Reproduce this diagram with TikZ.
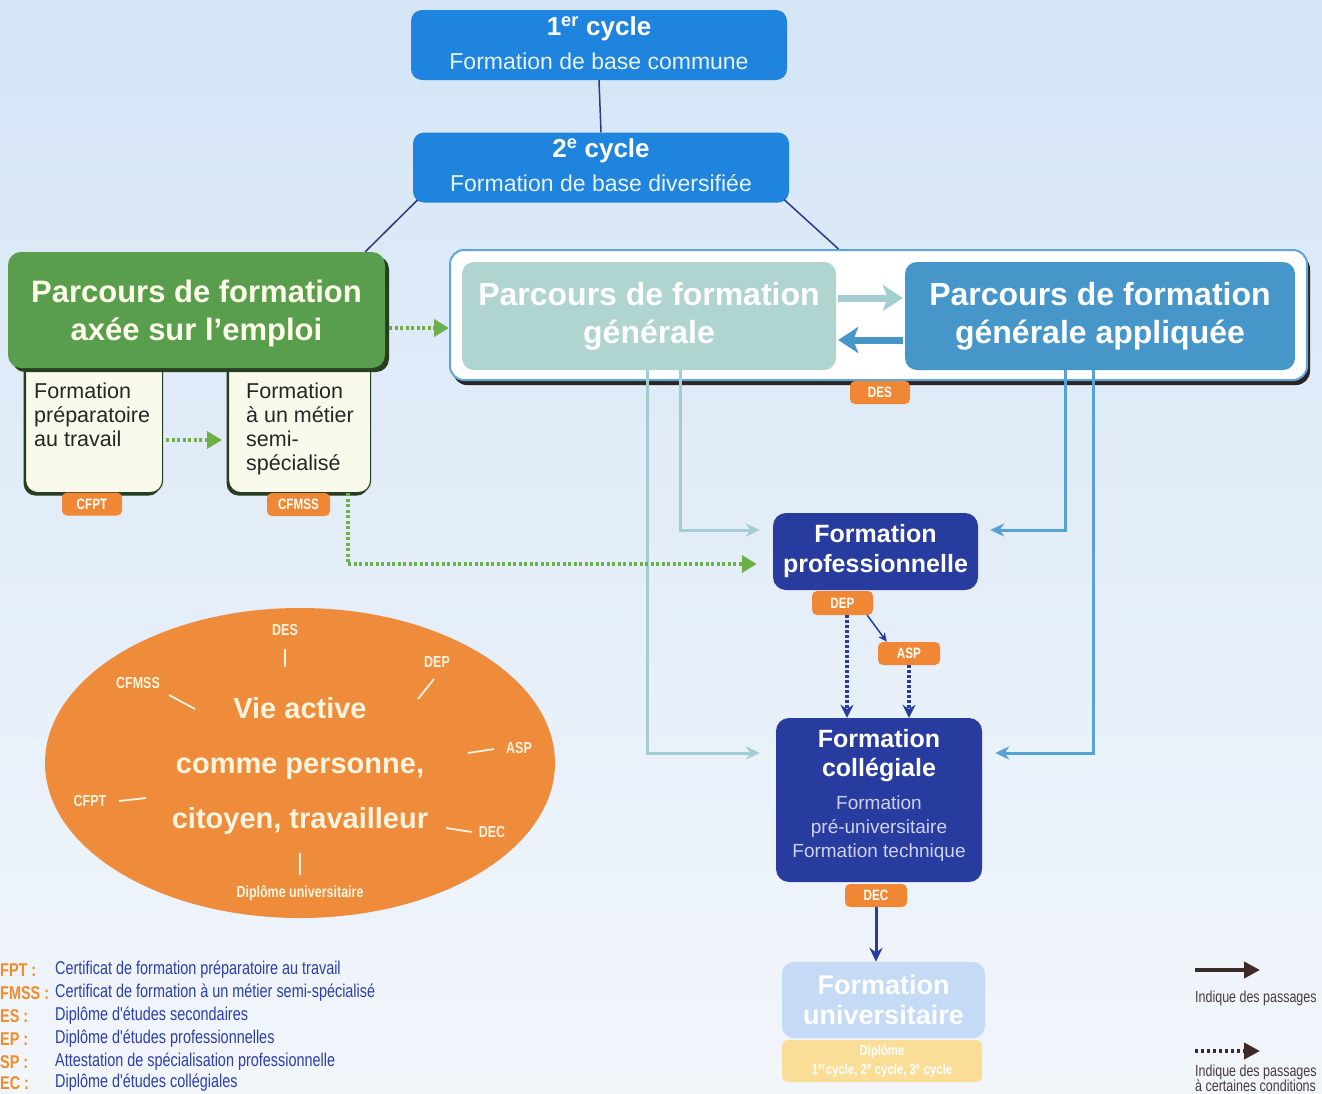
\documentclass[tikz,border=0pt]{standalone}
\usepackage{fontspec}
\setmainfont{Liberation Sans}
\newfontfamily\narrowfont[FakeStretch=0.78]{Liberation Sans}
\usetikzlibrary{arrows.meta,shadows,shapes.geometric}
\definecolor{bgtop}{RGB}{213,229,246}
\definecolor{bgbot}{RGB}{242,246,251}
\definecolor{ccycle}{RGB}{30,132,222}
\definecolor{cnavyline}{RGB}{45,55,135}
\definecolor{cgreen}{RGB}{88,158,76}
\definecolor{cgreendark}{RGB}{40,62,32}
\definecolor{ccream}{RGB}{249,250,236}
\definecolor{cbadge}{RGB}{240,135,52}
\definecolor{cgreenarr}{RGB}{110,176,72}
\definecolor{ccontborder}{RGB}{95,165,215}
\definecolor{cgen}{RGB}{176,212,208}
\definecolor{capp}{RGB}{70,150,202}
\definecolor{cteal}{RGB}{162,206,210}
\definecolor{cblue}{RGB}{85,163,214}
\definecolor{cnavy}{RGB}{40,60,160}
\definecolor{cnavysub}{RGB}{205,210,242}
\definecolor{cuniv}{RGB}{196,218,245}
\definecolor{cdipl}{RGB}{250,222,152}
\definecolor{cell}{RGB}{238,140,60}
\definecolor{celltext}{RGB}{255,244,222}
\definecolor{clegorange}{RGB}{240,140,40}
\definecolor{clegblue}{RGB}{45,62,170}
\definecolor{clegbrown}{RGB}{62,42,38}
\definecolor{clegtext}{RGB}{70,60,60}
\definecolor{cshadow}{RGB}{45,35,35}
\begin{document}
\begin{tikzpicture}[x=1pt,y=-1pt,
  cyclebox/.style={rectangle, rounded corners=11pt, fill=ccycle, minimum width=376pt, minimum height=70pt, inner sep=0pt},
  cycletitle/.style={text=white, font=\bfseries\fontsize{26}{30}\selectfont, inner sep=0pt},
  cyclesub/.style={text=white!90!ccycle, font=\fontsize{23}{26}\selectfont, inner sep=0pt},
  navyconn/.style={cnavyline, line width=1.5pt},
  subbox/.style={rectangle, rounded corners=12pt, fill=ccream, draw=cgreendark, line width=1.2pt, minimum width=137pt, minimum height=137pt, anchor=north west, inner sep=0pt,
     drop shadow={shadow xshift=-2pt, shadow yshift=-3pt, fill=cgreendark, opacity=1}},
  subtext/.style={font=\fontsize{21.5}{24}\selectfont, align=left, anchor=north west, inner sep=0pt, text=black!85},
  greenbox/.style={rectangle, rounded corners=13pt, fill=cgreen, minimum width=377pt, minimum height=116pt, inner sep=0pt,
     drop shadow={shadow xshift=4pt, shadow yshift=-4pt, fill=cgreendark, opacity=1}},
  greentext/.style={text=white!92!yellow, font=\bfseries\fontsize{31}{38}\selectfont, align=center, inner sep=0pt},
  contbox/.style={rectangle, rounded corners=14pt, fill=white, draw=ccontborder, line width=2pt, minimum width=857pt, minimum height=130pt, inner sep=0pt,
     drop shadow={shadow xshift=3pt, shadow yshift=-5pt, fill=cshadow, opacity=1}},
  genbox/.style={rectangle, rounded corners=12pt, fill=cgen, minimum width=374pt, minimum height=108pt, inner sep=0pt,
     text=white, font=\bfseries\fontsize{32}{38}\selectfont, align=center},
  appbox/.style={genbox, fill=capp, minimum width=390pt},
  badgebox/.style={rectangle, rounded corners=5pt, fill=cbadge, text=white, font=\narrowfont\bfseries\fontsize{15}{17}\selectfont, minimum width=60pt, minimum height=23pt, inner sep=0pt},
  navyboxstyle/.style={rectangle, rounded corners=13pt, fill=cnavy, text=white, inner sep=0pt, minimum width=205pt, align=center, font=\bfseries\fontsize{25}{30}\selectfont},
  gdot/.style={cgreenarr, line width=4pt, dash pattern=on 3pt off 2.5pt, -{Triangle[length=15pt,width=17pt]}},
  tealarr/.style={cteal, line width=3pt, -{Stealth[length=14pt,width=13pt]}},
  bluearr/.style={cblue, line width=3pt, -{Stealth[length=14pt,width=13pt]}},
  thickteal/.style={cteal, line width=7pt, -{Stealth[length=20pt,width=26pt,inset=5pt]}},
  thickblue/.style={capp, line width=7pt, -{Stealth[length=20pt,width=26pt,inset=5pt]}},
  ndot/.style={cnavy, line width=4pt, dash pattern=on 3pt off 2pt, -{Stealth[length=13pt,width=13pt]}},
  nsolid/.style={cnavy, line width=3pt, -{Stealth[length=14pt,width=13pt]}},
  ellabel/.style={text=celltext, font=\narrowfont\bfseries\fontsize{16}{18}\selectfont, inner sep=0pt},
  elltick/.style={celltext, line width=1.8pt},
  legabbr/.style={text=clegorange, font=\narrowfont\bfseries\fontsize{18.5}{20}\selectfont, anchor=west, inner sep=0pt},
  legdesc/.style={text=clegblue, font=\narrowfont\fontsize{18.5}{20}\selectfont, anchor=west, inner sep=0pt},
  legarr/.style={clegbrown, line width=4pt, -{Triangle[length=16pt,width=16pt]}},
  legtxt/.style={text=clegtext, font=\narrowfont\fontsize{16}{18}\selectfont, anchor=west, inner sep=0pt}
]
\useasboundingbox (0,0) rectangle (1322,1093);
\shade[top color=bgtop,bottom color=bgbot] (0,0) rectangle (1322,1093);

% ---- cycles
\node[cyclebox] (c1) at (599,45) {};
\node[cycletitle] (c1t) at (599,29) {1\textsuperscript{er} cycle};
\node[cyclesub] (c1s) at (599,61) {Formation de base commune};
\node[cyclebox] (c2) at (601,167.5) {};
\node[cycletitle] (c2t) at (601,151) {2\textsuperscript{e} cycle};
\node[cyclesub] (c2s) at (601,183) {Formation de base diversifiée};
\draw[navyconn] (c1.south) -- (c2.north);

% ---- employment path
\node[subbox] (sub1) at (25,355) {};
\node[subbox, minimum width=142pt] (sub2) at (228,355) {};
\node[greenbox] (green) at (196.5,310) {};
\node[greentext] (greent) at (196.5,313) {Parcours de formation\\axée sur l'emploi};
\node[subtext] (sub1t) at (34,383) {Formation\\préparatoire\\au travail};
\node[subtext] (sub2t) at (246,383) {Formation\\à un métier\\semi-\\spécialisé};
\node[badgebox] (cfpt) at (92,504) {CFPT};
\node[badgebox, minimum width=63pt] (cfmss) at (298.5,504.5) {CFMSS};
\coordinate (ya) at (0,440);
\draw[gdot, shorten <=3pt, shorten >=6pt] (sub1.east |- ya) -- (sub2.west |- ya);

% ---- general paths
\node[contbox] (cont) at (878.5,315) {};
\node[genbox] (gen) at (649,316) {Parcours de formation\\générale};
\node[appbox] (app) at (1100,316) {Parcours de formation\\générale appliquée};
\coordinate (yr) at (0,298);
\coordinate (yl) at (0,340);
\draw[thickteal, shorten <=2pt, shorten >=2pt] (gen.east |- yr) -- (app.west |- yr);
\draw[thickblue, shorten <=2pt, shorten >=2pt] (app.west |- yl) -- (gen.east |- yl);
\node[badgebox] (des) at (880,392.5) {DES};

\draw[navyconn] ([xshift=5pt,yshift=3pt]c2.south west) -- ([xshift=-20pt]green.north east);
\draw[navyconn] ([xshift=-5pt,yshift=3pt]c2.south east) -- ([xshift=-40pt]cont.north);
\coordinate (yg) at (0,328);
\draw[gdot, shorten <=4pt] (green.east |- yg) -- (cont.west |- yg);

% ---- professional / college
\node[navyboxstyle, minimum height=77pt] (prof) at (875.5,551.5) {Formation\\professionnelle};
\node[badgebox, minimum width=61pt, minimum height=24pt] (dep) at (842.5,603) {DEP};
\node[badgebox, minimum width=62pt] (asp) at (909,653.5) {ASP};
\node[rectangle, rounded corners=13pt, fill=cnavy, minimum width=206pt, minimum height=164pt, inner sep=0pt] (col) at (879,800) {};
\node[text=white, font=\bfseries\fontsize{25}{29}\selectfont, align=center, inner sep=0pt] (colt) at (879,756) {Formation\\collégiale};
\node[text=cnavysub, font=\fontsize{19}{24}\selectfont, align=center, inner sep=0pt] (cols) at (879,829) {Formation\\pré-universitaire\\Formation technique};
\node[badgebox, minimum width=62pt] (dec) at (876,895.5) {DEC};

\draw[cnavy, line width=1.5pt, -{Stealth[length=9pt,width=8pt]}] ([xshift=-6pt]dep.south east) -- ([xshift=9pt]asp.north west);
\draw[ndot] ([xshift=4.5pt]dep.south) -- ([xshift=4.5pt]dep.south |- col.north);
\draw[ndot] (asp.south) -- (asp.south |- col.north);

% university
\node[rectangle, rounded corners=12pt, fill=cuniv, minimum width=203pt, minimum height=76pt, inner sep=0pt, text=white, align=center, font=\bfseries\fontsize{27}{30}\selectfont] (univ) at (883.5,1000) {Formation\\universitaire};
\node[rectangle, rounded corners=6pt, fill=cdipl, minimum width=200pt, minimum height=42pt, inner sep=0pt, text=white, align=center, font=\narrowfont\bfseries\fontsize{14.5}{19}\selectfont] (dipl) at (882,1061) {Diplôme\\1\textsuperscript{er}cycle, 2\textsuperscript{e} cycle, 3\textsuperscript{e} cycle};
\draw[nsolid] (dec.south) -- (dec.south |- univ.north);

% light blue connectors
\draw[tealarr] ([xshift=-2pt]gen.south) |- ([xshift=-16pt,yshift=47pt]col.west);
\draw[tealarr] ([xshift=31pt]gen.south) |- ([xshift=-13pt,yshift=21.5pt]prof.west);
\draw[bluearr] ([xshift=-35pt]app.south) |- ([xshift=12pt,yshift=21.5pt]prof.east);
\draw[bluearr] ([xshift=-7pt]app.south) |- ([xshift=13pt,yshift=47pt]col.east);
\draw[gdot] ([xshift=48pt]sub2.south) |- ([xshift=-16pt,yshift=-12.5pt]prof.west);

% ---- active life ellipse
\node[ellipse, fill=cell, minimum width=510pt, minimum height=310pt, inner sep=0pt] (life) at (300,763) {};
\node[text=celltext, font=\bfseries\fontsize{29}{55}\selectfont, align=center, inner sep=0pt] (lifet) at (300,766) {Vie active\\comme personne,\\citoyen, travailleur};
\node[ellabel] (ldes) at (285,630) {DES};
\node[ellabel] (ldep) at (437,662) {DEP};
\node[ellabel] (lasp) at (519,748) {ASP};
\node[ellabel] (lcfmss) at (138,683) {CFMSS};
\node[ellabel] (lcfpt) at (90,801) {CFPT};
\node[ellabel] (ldec) at (492,832) {DEC};
\node[ellabel] (ldu) at (300,893) {Diplôme universitaire};
\coordinate (k1a) at (285,649); \coordinate (k1b) at (285,667);
\coordinate (k2a) at (434,679); \coordinate (k2b) at (418,699);
\coordinate (k3a) at (494,749); \coordinate (k3b) at (468,753);
\coordinate (k4a) at (169,695); \coordinate (k4b) at (195,709);
\coordinate (k5a) at (119,801); \coordinate (k5b) at (146,798);
\coordinate (k6a) at (446,828); \coordinate (k6b) at (472,832);
\coordinate (k7a) at (300,853); \coordinate (k7b) at (300,875);
\draw[elltick] (k1a) -- (k1b);
\draw[elltick] (k2a) -- (k2b);
\draw[elltick] (k3a) -- (k3b);
\draw[elltick] (k4a) -- (k4b);
\draw[elltick] (k5a) -- (k5b);
\draw[elltick] (k6a) -- (k6b);
\draw[elltick] (k7a) -- (k7b);

% ---- legend left
\node[legabbr] (a1) at (0,970) {FPT :};
\node[legdesc] (d1) at (55,970) {Certificat de formation préparatoire au travail};
\node[legabbr] (a2) at (0,993) {FMSS :};
\node[legdesc] (d2) at (55,993) {Certificat de formation à un métier semi-spécialisé};
\node[legabbr] (a3) at (0,1016) {ES :};
\node[legdesc] (d3) at (55,1016) {Diplôme d'études secondaires};
\node[legabbr] (a4) at (0,1039) {EP :};
\node[legdesc] (d4) at (55,1039) {Diplôme d'études professionnelles};
\node[legabbr] (a5) at (0,1062) {SP :};
\node[legdesc] (d5) at (55,1062) {Attestation de spécialisation professionnelle};
\node[legabbr] (a6) at (0,1083) {EC :};
\node[legdesc] (d6) at (55,1083) {Diplôme d'études collégiales};

% ---- legend right
\coordinate (la1) at (1195,970); \coordinate (la2) at (1260,970);
\draw[legarr] (la1) -- (la2);
\node[legtxt] (lt1) at (1195,998) {Indique des passages};
\coordinate (lb1) at (1195,1051); \coordinate (lb2) at (1260,1051);
\draw[legarr, dash pattern=on 3pt off 3pt] (lb1) -- (lb2);
\node[legtxt] (lt2) at (1195,1072) {Indique des passages};
\node[legtxt] (lt3) at (1195,1086) {à certaines conditions};
\end{tikzpicture}
\end{document}
